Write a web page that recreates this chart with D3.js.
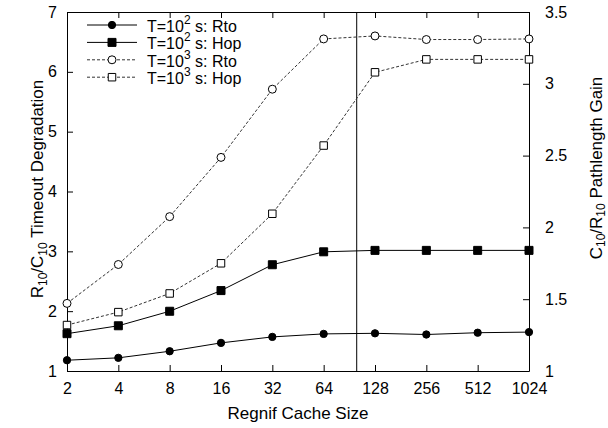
<!DOCTYPE html>
<html>
<head>
<meta charset="utf-8">
<script src="https://cdn.jsdelivr.net/npm/d3@7"></script>
<style>
  body { margin: 0; background: #fff; }
  text { font-family: "Liberation Sans", Arial, sans-serif; fill: #000; }
</style>
</head>
<body>
<div id="chart"></div>
<script>
// cache sizes on the x axis
var cacheSizes = [2, 4, 8, 16, 32, 64, 128, 256, 512, 1024];
// left axis: R10/C10 timeout degradation
var rto100 = [1.18, 1.22, 1.33, 1.47, 1.57, 1.62, 1.63, 1.61, 1.64, 1.65];
var rto1000 = [2.13, 2.78, 3.58, 4.57, 5.71, 6.55, 6.60, 6.54, 6.54, 6.55];
// right axis: C10/R10 pathlength gain
var hop100 = [1.26, 1.315, 1.416, 1.56, 1.74, 1.83, 1.84, 1.84, 1.84, 1.84];
var hop1000 = [1.32, 1.41, 1.54, 1.75, 2.095, 2.57, 3.08, 3.17, 3.17, 3.17];
var leftTicks = [1, 2, 3, 4, 5, 6, 7];
var rightTicks = [1, 1.5, 2, 2.5, 3, 3.5];
var markerSize = 100; // cache size of the vertical marker line

var width = 608, height = 428;
var margin = {top: 12, right: 79, bottom: 57, left: 67};
var w = width - margin.left - margin.right;
var h = height - margin.top - margin.bottom;

var svg = d3.select("#chart").append("svg")
    .attr("width", width)
    .attr("height", height);

var g = svg.append("g")
    .attr("transform", "translate(" + margin.left + "," + margin.top + ")");

var x = d3.scaleLog().base(2).domain([2, 1024]).range([0, w]);
var yL = d3.scaleLinear().domain([1, 7]).range([h, 0]);
var yR = d3.scaleLinear().domain([1, 3.5]).range([h, 0]);

// axes (ticks pointing inward)
var xAxis = d3.axisBottom(x).tickValues(cacheSizes).tickFormat(d3.format("d"))
    .tickSizeInner(-6).tickSizeOuter(0).tickPadding(12);
var xTop = d3.axisTop(x).tickValues(cacheSizes).tickFormat("")
    .tickSizeInner(-6).tickSizeOuter(0);
var yAxisL = d3.axisLeft(yL).tickValues(leftTicks).tickFormat(d3.format("d"))
    .tickSizeInner(-6).tickSizeOuter(0).tickPadding(10);
var yAxisR = d3.axisRight(yR).tickValues(rightTicks).tickFormat(function (d) { return d; })
    .tickSizeInner(-6).tickSizeOuter(0).tickPadding(16);

function styleAxis(sel) {
    sel.selectAll("path").attr("stroke", "#000").attr("stroke-width", 1);
    sel.selectAll("line").attr("stroke", "#000").attr("stroke-width", 1);
    sel.selectAll("text").style("font-size", "16px").attr("fill", "#000")
        .style("font-family", "'Liberation Sans', Arial, sans-serif");
}

g.append("g").attr("transform", "translate(0," + h + ")").call(xAxis).call(styleAxis);
g.append("g").call(xTop).call(styleAxis);
g.append("g").call(yAxisL).call(styleAxis);
g.append("g").attr("transform", "translate(" + w + ",0)").call(yAxisR).call(styleAxis);

// vertical marker line
g.append("line")
    .attr("x1", x(markerSize)).attr("x2", x(markerSize))
    .attr("y1", 0).attr("y2", h)
    .attr("stroke", "#000").attr("stroke-width", 1);

var series = [
    {name: "2", label: "Rto", values: rto100, y: yL, dash: null, shape: d3.symbolCircle, fill: "#000", size: 42},
    {name: "2", label: "Hop", values: hop100, y: yR, dash: null, shape: d3.symbolSquare, fill: "#000", size: 64},
    {name: "3", label: "Rto", values: rto1000, y: yL, dash: "3,2", shape: d3.symbolCircle, fill: "#fff", size: 50},
    {name: "3", label: "Hop", values: hop1000, y: yR, dash: "3,2", shape: d3.symbolSquare, fill: "#fff", size: 56}
];

series.forEach(function (s) {
    var line = d3.line()
        .x(function (d, i) { return x(cacheSizes[i]); })
        .y(function (d) { return s.y(d); });
    g.append("path")
        .datum(s.values)
        .attr("d", line)
        .attr("fill", "none")
        .attr("stroke", s.dash ? "#333" : "#000")
        .attr("stroke-width", 1)
        .attr("stroke-dasharray", s.dash);
    g.selectAll(null)
        .data(s.values)
        .enter().append("path")
        .attr("d", d3.symbol().type(s.shape).size(s.size))
        .attr("transform", function (d, i) { return "translate(" + x(cacheSizes[i]) + "," + s.y(d) + ")"; })
        .attr("fill", s.fill)
        .attr("stroke", "#000")
        .attr("stroke-width", 1);
});

// legend
var legend = svg.append("g");
series.forEach(function (s, i) {
    var ly = 25 + i * 17.4;
    legend.append("line")
        .attr("x1", 87).attr("x2", 137).attr("y1", ly).attr("y2", ly)
        .attr("stroke", s.dash ? "#333" : "#000")
        .attr("stroke-width", 1)
        .attr("stroke-dasharray", s.dash);
    legend.append("path")
        .attr("d", d3.symbol().type(s.shape).size(s.size))
        .attr("transform", "translate(112," + ly + ")")
        .attr("fill", s.fill)
        .attr("stroke", "#000");
    var t = legend.append("text")
        .attr("x", 147).attr("y", ly + 7)
        .style("font-size", "16px");
    t.append("tspan").text("T=10");
    t.append("tspan").attr("dy", -8).style("font-size", "12px").text(s.name);
    t.append("tspan").attr("dy", 8).text(" s: " + s.label);
});

// axis titles
svg.append("text")
    .attr("x", margin.left + w / 2).attr("y", 419)
    .attr("text-anchor", "middle")
    .style("font-size", "17px")
    .text("Regnif Cache Size");

var lt = svg.append("text")
    .attr("transform", "translate(43,189) rotate(-90)")
    .attr("text-anchor", "middle")
    .style("font-size", "17px");
lt.append("tspan").text("R");
lt.append("tspan").attr("dy", 4).style("font-size", "12px").text("10");
lt.append("tspan").attr("dy", -4).text("/C");
lt.append("tspan").attr("dy", 4).style("font-size", "12px").text("10");
lt.append("tspan").attr("dy", -4).text(" Timeout Degradation");

var rt = svg.append("text")
    .attr("transform", "translate(602,168) rotate(-90)")
    .attr("text-anchor", "middle")
    .style("font-size", "17px");
rt.append("tspan").text("C");
rt.append("tspan").attr("dy", 3).style("font-size", "12px").text("10");
rt.append("tspan").attr("dy", -3).text("/R");
rt.append("tspan").attr("dy", 3).style("font-size", "12px").text("10");
rt.append("tspan").attr("dy", -3).text(" Pathlength Gain");
</script>
</body>
</html>
